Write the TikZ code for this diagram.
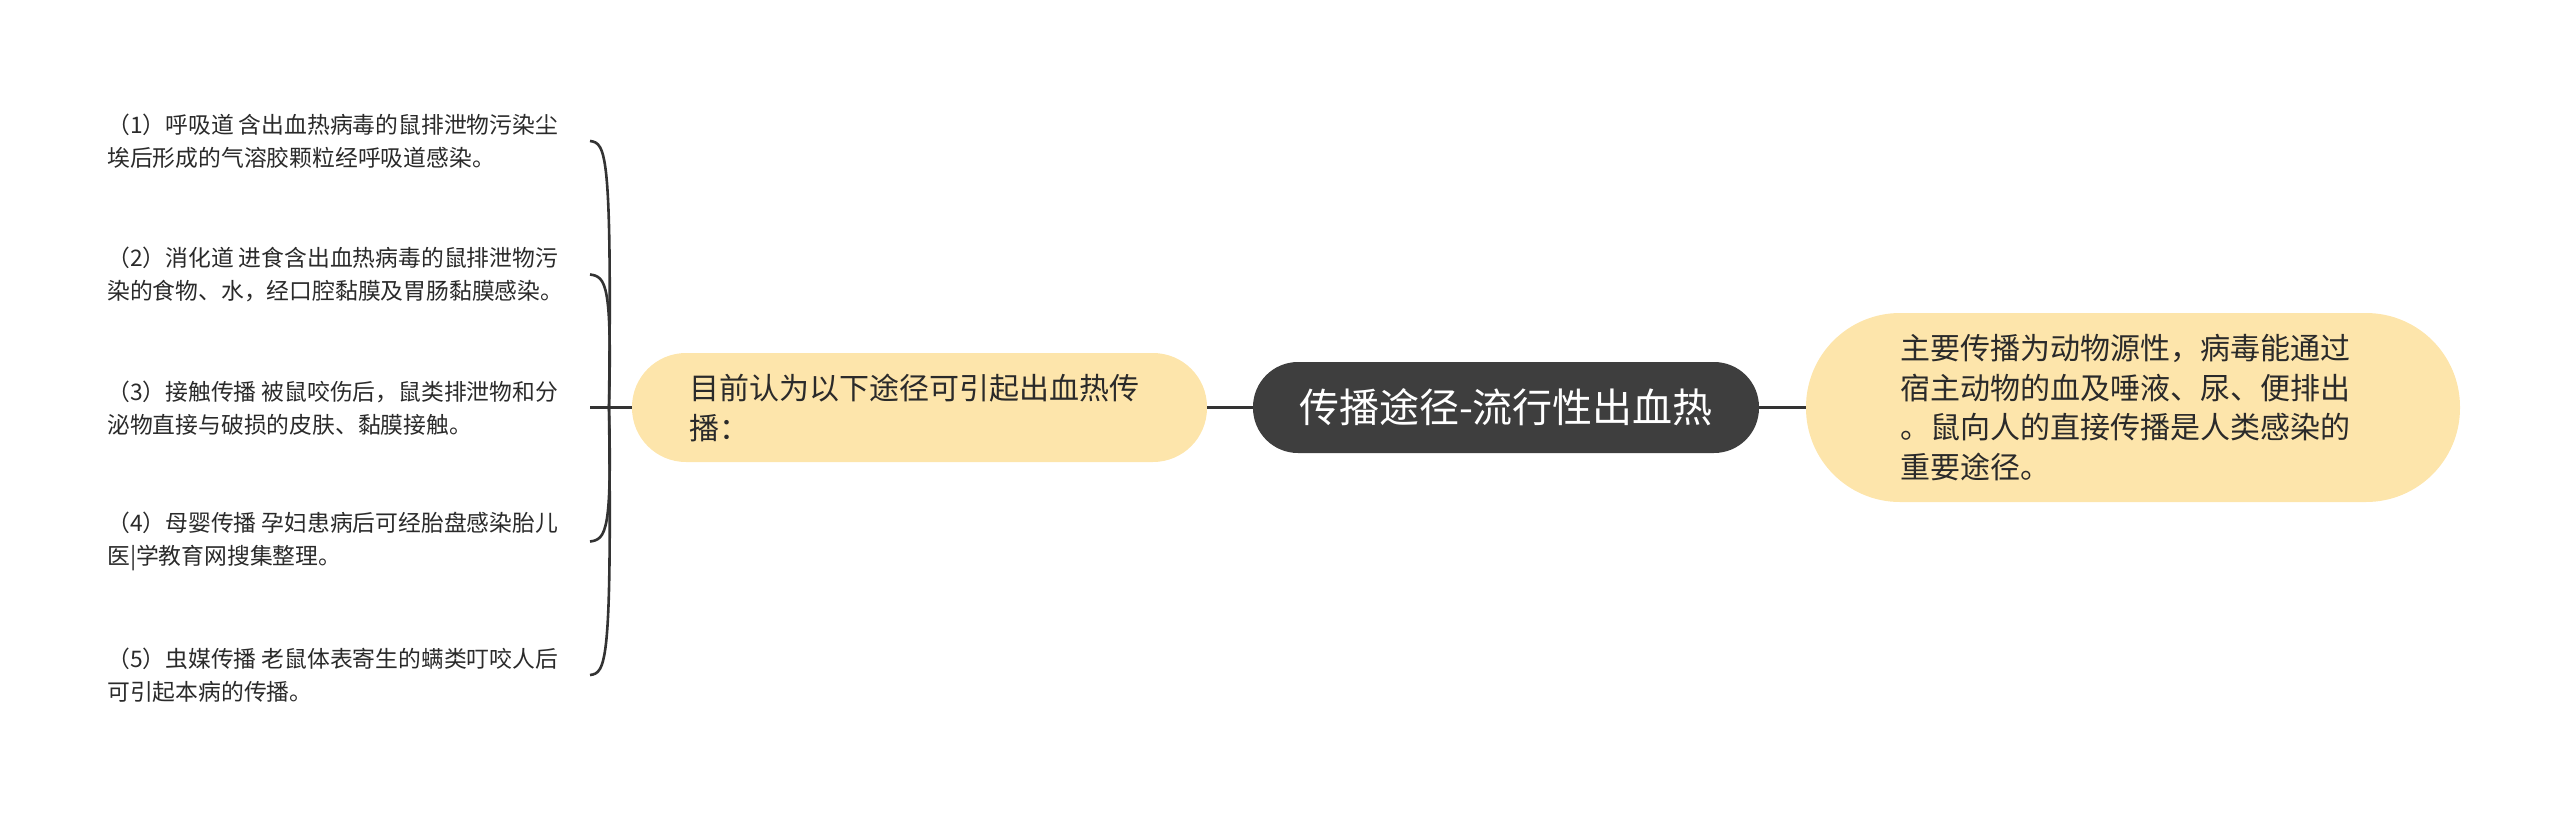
\documentclass[tikz,border=0pt]{standalone}
\usepackage{fontspec}
\setmainfont{Noto Sans CJK SC}
\definecolor{yel}{HTML}{FDE5AB}
\definecolor{dark}{HTML}{3E3E3E}
\definecolor{linec}{HTML}{333333}
\definecolor{textc}{HTML}{2A2A2A}
\begin{document}
\begin{tikzpicture}[x=1pt,y=-1pt]
\tikzset{
  conn/.style={draw=linec, line width=3pt},
  curv/.style={draw=linec, line width=2.6pt},
  itemtext/.style={anchor=west, inner sep=0pt, align=left, text=textc, font=\fontsize{22.8}{33}\selectfont},
  ynode/.style={fill=yel, draw=none, align=left, text=textc, inner ysep=0pt, font=\fontsize{30}{40}\selectfont},
  rootnode/.style={fill=dark, draw=none, text=white, inner sep=0pt, minimum width=506pt, minimum height=91pt, rounded corners=45pt, font=\fontsize{40}{48}\selectfont}
}
\useasboundingbox (0,0) rectangle (2560,815);
% main nodes
\node[rootnode] (root) at (1506,407.5) {传播途径-流行性出血热};
\node[ynode, text width=460pt, inner xsep=57.5pt, minimum height=109pt, rounded corners=54pt] (sub) at (919.5,407.5) {目前认为以下途径可引起出血热传\\播：};
\node[ynode, text width=466pt, inner xsep=94pt, minimum height=189pt, rounded corners=94pt, font=\fontsize{30}{39.5}\selectfont] (main) at (2133,407.5) {主要传播为动物源性，病毒能通过\\宿主动物的血及唾液、尿、便排出\\。鼠向人的直接传播是人类感染的\\重要途径。};
% items
\node[itemtext] (i1) at (107,141) {（1）呼吸道 含出血热病毒的鼠排泄物污染尘\\埃后形成的气溶胶颗粒经呼吸道感染。};
\node[itemtext] (i2) at (107,274.5) {（2）消化道 进食含出血热病毒的鼠排泄物污\\染的食物、水，经口腔黏膜及胃肠黏膜感染。};
\node[itemtext] (i3) at (107,408) {（3）接触传播 被鼠咬伤后，鼠类排泄物和分\\泌物直接与破损的皮肤、黏膜接触。};
\node[itemtext] (i4) at (107,541.5) {（4）母婴传播 孕妇患病后可经胎盘感染胎儿\\医|学教育网搜集整理。};
\node[itemtext] (i5) at (107,675) {（5）虫媒传播 老鼠体表寄生的螨类叮咬人后\\可引起本病的传播。};
% connector points
\coordinate (j) at (609,407.5);
\coordinate (t1) at (590,141);
\coordinate (t2) at (590,274.5);
\coordinate (t3) at (590,407.5);
\coordinate (t4) at (590,541.5);
\coordinate (t5) at (590,675);
% connectors
\draw[conn] (root.east) -- (main.west);
\draw[conn] (sub.east) -- (root.west);
\draw[conn] (sub.west) -- (t3);
\draw[curv] (j) .. controls (612,151) and (606,143) .. (t1);
\draw[curv] (j) .. controls (612,284.5) and (606,276.5) .. (t2);
\draw[curv] (j) .. controls (612,531.5) and (606,539.5) .. (t4);
\draw[curv] (j) .. controls (612,665) and (606,673) .. (t5);
\end{tikzpicture}
\end{document}
